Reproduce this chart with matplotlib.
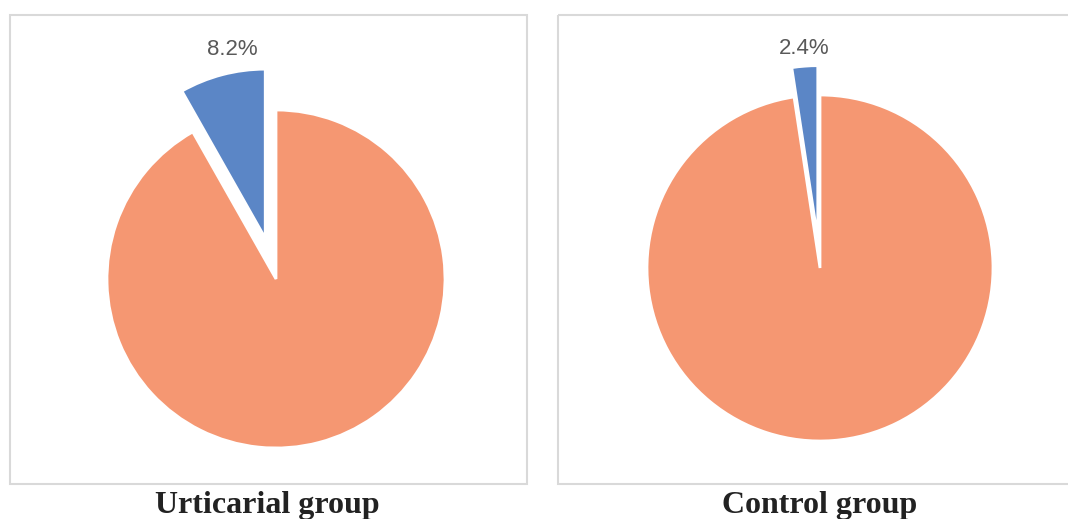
import matplotlib.pyplot as plt
from matplotlib.patches import Rectangle

# shares (%) : other, positive
groups = ["Urticarial group", "Control group"]
urticarial = [91.8, 8.2]
control = [97.6, 2.4]
colors = ["#F59772", "#5B86C6"]

W, H = 1068, 519
fig = plt.figure(figsize=(W / 100, H / 100), dpi=100)


def px_axes(cx, cy, r, size=440):
    # square axes centered on pixel (cx, cy) from top-left, pie radius r px
    ax = fig.add_axes([(cx - size / 2) / W, 1 - (cy + size / 2) / H, size / W, size / H])
    ax.set_aspect("equal")
    ax.axis("off")
    return ax


# panel borders
bg = fig.add_axes([0, 0, 1, 1])
bg.set_xlim(0, W)
bg.set_ylim(H, 0)
bg.axis("off")
bg.add_patch(Rectangle((10, 15), 517, 469, fill=False, ec="#D9D9D9", lw=1.5))
bg.add_patch(Rectangle((558, 15), 530, 469, fill=False, ec="#D9D9D9", lw=1.5))

panels = [
    (urticarial, 276, 279, 169, 0.25, (-0.26, 1.36)),
    (control, 820, 268, 173, 0.17, (-0.09, 1.27)),
]

for vals, cx, cy, r, ex, lab in panels:
    ax = px_axes(cx, cy, r)
    wedges, texts, autotexts = ax.pie(
        vals, colors=colors, startangle=90, counterclock=False,
        explode=[0, ex], radius=1,
        wedgeprops=dict(edgecolor="white", linewidth=2),
        autopct=lambda p: "%.1f%%" % p if p < 50 else "",
        textprops=dict(family="Liberation Sans", fontsize=16, color="#595959"),
    )
    ax.set_xlim(-440 / 2 / r, 440 / 2 / r)
    ax.set_ylim(-440 / 2 / r, 440 / 2 / r)
    autotexts[1].set_position(lab)

for name, x in zip(groups, [267, 820]):
    fig.text(x / W, 1 - 513 / H, name, ha="center", va="baseline",
             family="Liberation Serif", fontweight="bold", fontsize=23, color="#222222")

fig.savefig("out.png", dpi=100, facecolor="white")
